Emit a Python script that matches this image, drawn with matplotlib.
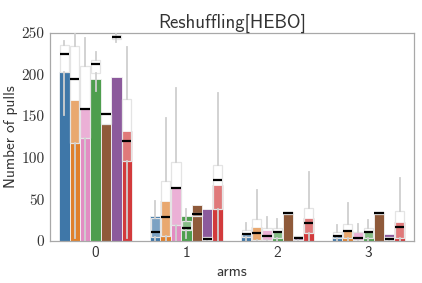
import numpy as np
import matplotlib
matplotlib.use("Agg")
import matplotlib.pyplot as plt

arms = [0, 1, 2, 3]
series = ["A", "B", "C", "D", "E", "F", "G"]
colors = ["#3f77a8", "#e0802c", "#e28cc3", "#4e9e4e", "#8f5a3a", "#8c5a9c", "#d23a3c"]

# bar heights (mean number of pulls) per series, per arm
means = {
    "A": [203, 30, 8.4, 7.2],
    "B": [169.5, 48.4, 17.2, 12.4],
    "C": [159.5, 64, 13.2, 10.4],
    "D": [194.3, 30.4, 11.2, 11.2],
    "E": [140, 43.6, 34.5, 34],
    "F": [197.5, 38.8, 5.2, 8],
    "G": [132, 67.3, 28, 22.4],
}
medians = {
    "A": [224, 11, 8, 6],
    "B": [195, 29, 9, 12],
    "C": [158, 63, 6, 4],
    "D": [212, 15, 11, 11],
    "E": [152, 32.5, 33.6, 33.6],
    "F": [245, 2.4, 3.2, 2],
    "G": [120, 73, 22, 16.4],
}
q1s = {
    "A": [203, 5, 4.4, 3],
    "B": [117, 6, 1, 4],
    "C": [123, 19, 1, 1],
    "D": [201.5, 13, 3.6, 4],
    "E": [140, 30, 32, 32],
    "F": [243, 1, 1, 1],
    "G": [96.5, 38.5, 9.2, 3.2],
}
q3s = {
    "A": [235.6, 27, 13.2, 10.4],
    "B": [234.7, 72.5, 26, 20],
    "C": [210.7, 95.3, 15.2, 11.2],
    "D": [217.5, 24.4, 16, 15.2],
    "E": [153.5, 34, 35, 35],
    "F": [247.6, 5, 5.5, 4.5],
    "G": [170.3, 91, 40, 36.4],
}
whislo = {
    "A": [151, 1, 0, 0],
    "B": [3, 0, 0, 0],
    "C": [0, 0, 0, 0],
    "D": [179.5, 3, 0, 0],
    "E": [140, 30, 32, 32],
    "F": [238.4, 0, 0, 0],
    "G": [3, 0, 0, 0],
}
whishi = {
    "A": [240, 48.4, 21, 19.2],
    "B": [249, 148, 60.5, 45.3],
    "C": [243.6, 184, 28.5, 20.4],
    "D": [226.8, 38, 26, 25.2],
    "E": [153.5, 34, 35, 35],
    "F": [249.5, 5, 5.5, 4.5],
    "G": [232.8, 178, 82.5, 75.4],
}

fig = plt.figure(figsize=(4.22, 2.83), dpi=100)
ax = fig.add_axes([0.1185, 0.149, 0.8625, 0.735])

n = len(series)
width = 0.8 / n
x = np.arange(len(arms))
for i, s in enumerate(series):
    pos = x - 0.4 + width * (i + 0.5)
    ax.bar(pos, means[s], width=width, color=colors[i], edgecolor="#f4f4f4",
           linewidth=0.6, zorder=2)
    stats = []
    for j in range(len(arms)):
        stats.append(dict(med=medians[s][j], q1=q1s[s][j], q3=q3s[s][j],
                          whislo=whislo[s][j], whishi=whishi[s][j]))
    ax.bxp(stats, positions=pos, widths=width * 0.92, patch_artist=True,
           showcaps=False, showfliers=False, manage_ticks=False,
           boxprops=dict(facecolor=(1, 1, 1, 0.32), edgecolor="#e4e4e4", linewidth=0.9),
           whiskerprops=dict(color="#cfcfcf", linewidth=1.3),
           medianprops=dict(color="black", linewidth=1.6),
           zorder=3)

ax.set_xlim(-0.5, 3.5)
ax.set_ylim(0, 250)
ax.set_xticks(x)
ax.set_xticklabels([str(a) for a in arms], fontfamily="cmss10", fontsize=11, color="#333333")
ax.set_yticks([0, 50, 100, 150, 200, 250])
ax.set_yticklabels(["0", "50", "100", "150", "200", "250"], fontfamily="cmr10",
                   fontsize=11, color="#333333")
ax.tick_params(length=0, pad=4)
for sp in ax.spines.values():
    sp.set_color("#a8a8a8")
    sp.set_linewidth(0.9)
ax.set_xlabel("arms", fontfamily="cmss10", fontsize=11, color="#333333", labelpad=3)
ax.set_ylabel("Number of pulls", fontfamily="cmss10", fontsize=11, color="#333333", labelpad=2)
ax.set_title("Reshuffling[HEBO]", fontfamily="cmss10", fontsize=13.5, color="#333333", pad=4)

fig.savefig("out.png", dpi=100)
